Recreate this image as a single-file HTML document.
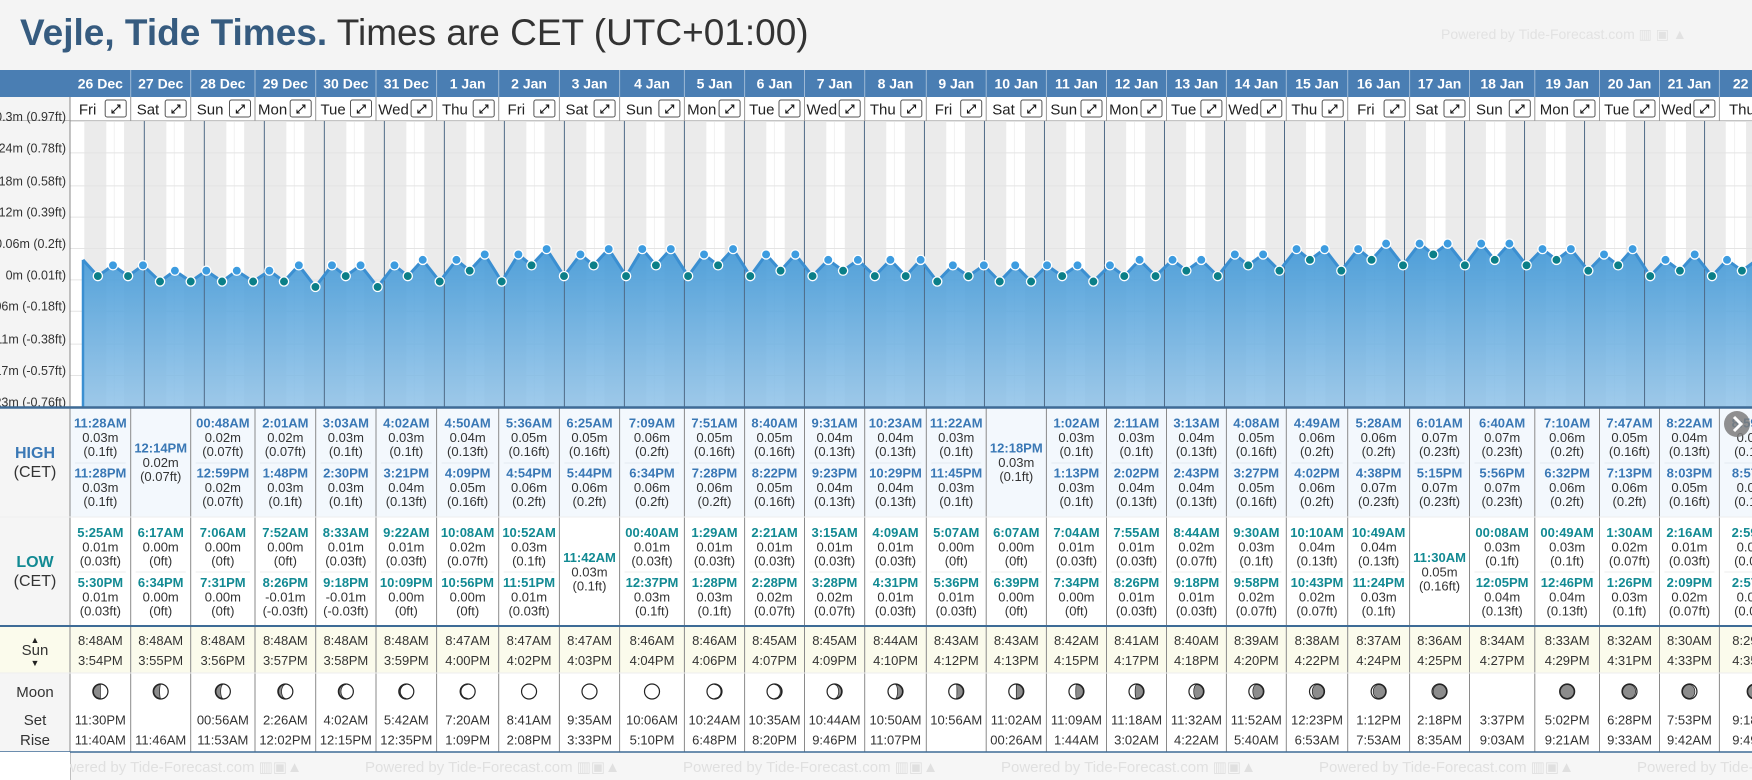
<!DOCTYPE html>
<html><head><meta charset="utf-8"><title>Vejle Tide Times</title>
<style>
html,body{margin:0;padding:0;background:#f4f4f4;width:1752px;height:780px;overflow:hidden;font-family:"Liberation Sans",sans-serif;}
#wrap{position:relative;width:1752px;height:780px;}
#title{position:absolute;left:20px;top:12px;font-size:37px;white-space:nowrap;color:#333;}
#title b{color:#365b7f;}
#wm{position:absolute;left:1441px;top:26px;font-size:14px;color:#e2e2e2;white-space:nowrap;}
svg{position:absolute;left:0;top:0;}
</style></head><body>
<div id="wrap">
<div id="title"><b>Vejle, Tide Times.</b> Times are CET (UTC+01:00)</div>
<div id="wm">Powered by Tide-Forecast.com ▥ ▣ ▲</div>
<svg id="svg" width="1752" height="780" viewBox="0 0 1752 780" xmlns="http://www.w3.org/2000/svg">
<defs>
<linearGradient id="fillg" x1="0" y1="0" x2="0" y2="1">
<stop offset="0" stop-color="#3f97d6" stop-opacity="0.92"/>
<stop offset="1" stop-color="#8fc2e8" stop-opacity="0.85"/>
</linearGradient>
<clipPath id="cclip"><rect x="70" y="121" width="1682" height="286"/></clipPath>
</defs>
</svg>
</div>
<script>
const days=['26 Dec','27 Dec','28 Dec','29 Dec','30 Dec','31 Dec','1 Jan','2 Jan','3 Jan','4 Jan','5 Jan','6 Jan','7 Jan','8 Jan','9 Jan','10 Jan','11 Jan','12 Jan','13 Jan','14 Jan','15 Jan','16 Jan','17 Jan','18 Jan','19 Jan','20 Jan','21 Jan','22 Jan'];
const weekdays=['Fri','Sat','Sun','Mon','Tue','Wed','Thu','Fri','Sat','Sun','Mon','Tue','Wed','Thu','Fri','Sat','Sun','Mon','Tue','Wed','Thu','Fri','Sat','Sun','Mon','Tue','Wed','Thu'];
const highT=[['11:28AM','11:28PM'],['12:14PM'],['00:48AM','12:59PM'],['2:01AM','1:48PM'],['3:03AM','2:30PM'],['4:02AM','3:21PM'],['4:50AM','4:09PM'],['5:36AM','4:54PM'],['6:25AM','5:44PM'],['7:09AM','6:34PM'],['7:51AM','7:28PM'],['8:40AM','8:22PM'],['9:31AM','9:23PM'],['10:23AM','10:29PM'],['11:22AM','11:45PM'],['12:18PM'],['1:02AM','1:13PM'],['2:11AM','2:02PM'],['3:13AM','2:43PM'],['4:08AM','3:27PM'],['4:49AM','4:02PM'],['5:28AM','4:38PM'],['6:01AM','5:15PM'],['6:40AM','5:56PM'],['7:10AM','6:32PM'],['7:47AM','7:13PM'],['8:22AM','8:03PM'],['8:59AM','8:57PM']];
const highM=[[.03,.03],[.02],[.02,.02],[.02,.03],[.03,.03],[.03,.04],[.04,.05],[.05,.06],[.05,.06],[.06,.06],[.05,.06],[.05,.05],[.04,.04],[.04,.04],[.03,.03],[.03],[.03,.03],[.03,.04],[.04,.04],[.05,.05],[.06,.06],[.06,.07],[.07,.07],[.07,.07],[.06,.06],[.05,.06],[.04,.05],[.04,.04]];
const lowT=[['5:25AM','5:30PM'],['6:17AM','6:34PM'],['7:06AM','7:31PM'],['7:52AM','8:26PM'],['8:33AM','9:18PM'],['9:22AM','10:09PM'],['10:08AM','10:56PM'],['10:52AM','11:51PM'],['11:42AM'],['00:40AM','12:37PM'],['1:29AM','1:28PM'],['2:21AM','2:28PM'],['3:15AM','3:28PM'],['4:09AM','4:31PM'],['5:07AM','5:36PM'],['6:07AM','6:39PM'],['7:04AM','7:34PM'],['7:55AM','8:26PM'],['8:44AM','9:18PM'],['9:30AM','9:58PM'],['10:10AM','10:43PM'],['10:49AM','11:24PM'],['11:30AM'],['00:08AM','12:05PM'],['00:49AM','12:46PM'],['1:30AM','1:26PM'],['2:16AM','2:09PM'],['2:59AM','2:57PM']];
const lowM=[[.01,.01],[0,0],[0,0],[0,-.01],[.01,-.01],[.01,0],[.02,0],[.03,.01],[.03],[.01,.03],[.01,.03],[.01,.02],[.01,.02],[.01,.01],[0,.01],[0,0],[.01,0],[.01,.01],[.02,.01],[.03,.02],[.04,.02],[.04,.03],[.05],[.03,.04],[.03,.04],[.02,.03],[.01,.02],[.01,.02]];
const sunrise=['8:48AM','8:48AM','8:48AM','8:48AM','8:48AM','8:48AM','8:47AM','8:47AM','8:47AM','8:46AM','8:46AM','8:45AM','8:45AM','8:44AM','8:43AM','8:43AM','8:42AM','8:41AM','8:40AM','8:39AM','8:38AM','8:37AM','8:36AM','8:34AM','8:33AM','8:32AM','8:30AM','8:29AM'];
const sunset=['3:54PM','3:55PM','3:56PM','3:57PM','3:58PM','3:59PM','4:00PM','4:02PM','4:03PM','4:04PM','4:06PM','4:07PM','4:09PM','4:10PM','4:12PM','4:13PM','4:15PM','4:17PM','4:18PM','4:20PM','4:22PM','4:24PM','4:25PM','4:27PM','4:29PM','4:31PM','4:33PM','4:35PM'];
const moonSet=['11:30PM','','00:56AM','2:26AM','4:02AM','5:42AM','7:20AM','8:41AM','9:35AM','10:06AM','10:24AM','10:35AM','10:44AM','10:50AM','10:56AM','11:02AM','11:09AM','11:18AM','11:32AM','11:52AM','12:23PM','1:12PM','2:18PM','3:37PM','5:02PM','6:28PM','7:53PM','9:18PM'];
const moonRise=['11:40AM','11:46AM','11:53AM','12:02PM','12:15PM','12:35PM','1:09PM','2:08PM','3:33PM','5:10PM','6:48PM','8:20PM','9:46PM','11:07PM','','00:26AM','1:44AM','3:02AM','4:22AM','5:40AM','6:53AM','7:53AM','8:35AM','9:03AM','9:21AM','9:33AM','9:42AM','9:49AM'];
const moonDark=[-0.5,-0.42,-0.34,-0.22,-0.14,-0.07,-0.02,0,0,0,0.03,0.08,0.2,0.35,0.45,0.5,0.55,0.6,0.7,0.76,0.85,0.9,0.97,null,1,-0.95,-0.9,-0.82];
const leadValue=0.04;
const yTicksM=[0.2957,0.2377,0.1768,0.1189,0.061,0.003,-0.0549,-0.1158,-0.1737,-0.2316];
const yTickLabels=['0.3m (0.97ft)','0.24m (0.78ft)','0.18m (0.58ft)','0.12m (0.39ft)','0.06m (0.2ft)','0m (0.01ft)','-0.06m (-0.18ft)','-0.11m (-0.38ft)','-0.17m (-0.57ft)','-0.23m (-0.76ft)'];

const NS='http://www.w3.org/2000/svg';
const svg=document.getElementById('svg');
const B=[70,130.7,190.7,255,315.7,376,436.6,498.7,559.4,619.6,684.4,744.6,804.5,864.7,926.3,986.2,1046.4,1106.5,1166.5,1226.4,1286.3,1347.7,1409.6,1469.5,1534.8,1599.5,1659.5,1719.4,1790];
const X0=84.3, DW=60.01, CT=121, CB=406.5;
function xAt(d,h){return X0+DW*(d+h/24);}
function yAt(v){return 281.5-541*v;}
function hrs(t){const m=t.match(/(\d+):(\d+)(AM|PM)/);let h=+m[1]%12;if(m[3]==='PM')h+=12;return h+(+m[2])/60;}
function ft(m){let f=Math.round(m*3.28084*100)/100;return '('+(f===0?0:f)+'ft)';}
function mk(tag,attrs,parent){const e=document.createElementNS(NS,tag);for(const k in attrs)e.setAttribute(k,attrs[k]);(parent||svg).appendChild(e);return e;}
function tx(x,y,s,size,color,weight,anchor){const e=mk('text',{x:x,y:y,'font-size':size,fill:color,'font-weight':weight||'normal','text-anchor':anchor||'middle','font-family':'Liberation Sans, sans-serif'});e.textContent=s;return e;}

let e;
e=mk('rect',{x:0,y:70,width:1752,height:27,fill:'#4a7eb3'});


e=mk('rect',{x:70,y:97,width:1682,height:24,fill:'#ffffff'});


e=mk('line',{x1:0,y1:121,x2:1752,y2:121,stroke:'#8a8a8a','stroke-width':1});


e=mk('rect',{x:70,y:121,width:1682,height:286,fill:'#ffffff'});



const chartG=mk('g',{'clip-path':'url(#cclip)'});


for(let d=0;d<days.length;d++){
  const sr=hrs(sunrise[d]), ss=hrs(sunset[d]);
  e=mk('rect',{x:xAt(d,0),y:CT,width:xAt(d,sr)-xAt(d,0),height:CB-CT,fill:'#ebebeb'},chartG);
  
  
  e=mk('rect',{x:xAt(d,ss),y:CT,width:xAt(d,24)-xAt(d,ss),height:CB-CT,fill:'#ebebeb'},chartG);
  
  
  e=mk('line',{x1:xAt(d,12),y1:CT,x2:xAt(d,12),y2:CB,stroke:'#f1f1f1','stroke-width':1},chartG);
  
  
}
yTicksM.forEach((v,i)=>{
  e=mk('line',{x1:70,y1:yAt(v),x2:1752,y2:yAt(v),stroke:'#e4e4e4','stroke-width':1},chartG);
  
  
});
const pts=[];
pts.push({x:xAt(0,0)-1.3,v:leadValue,type:'lead'});
for(let d=0;d<days.length;d++){
  highT[d].forEach((t,j)=>pts.push({x:xAt(d,hrs(t)),v:highM[d][j],type:'high'}));
  lowT[d].forEach((t,j)=>pts.push({x:xAt(d,hrs(t)),v:lowM[d][j],type:'low'}));
}
pts.sort((a,b)=>a.x-b.x);
let dpath='M'+pts[0].x+','+CB;
pts.forEach(p=>{dpath+=' L'+p.x.toFixed(1)+','+yAt(p.v).toFixed(1);});
dpath+=' L'+pts[pts.length-1].x+','+CB+' Z';
e=mk('path',{d:dpath,fill:'url(#fillg)',stroke:'none'},chartG);


for(let d=1;d<days.length;d++){
  e=mk('line',{x1:xAt(d,0),y1:CT,x2:xAt(d,0),y2:CB,stroke:'#4f6a86','stroke-width':1},chartG);
  
  
}
let lpath='';
pts.forEach((p,i)=>{lpath+=(i?' L':'M')+p.x.toFixed(1)+','+yAt(p.v).toFixed(1);});
e=mk('path',{d:lpath,fill:'none',stroke:'#3b8fd1','stroke-width':3,'stroke-linejoin':'round'},chartG);


e=mk('line',{x1:pts[0].x,y1:yAt(pts[0].v),x2:pts[0].x,y2:CB,stroke:'#3b8fd1','stroke-width':2.5},chartG);


pts.forEach(p=>{
  if(p.type==='lead')return;
  e=mk('circle',{cx:p.x,cy:yAt(p.v),r:4.6,fill:p.type==='high'?'#3d9ce0':'#0b7f88',stroke:'#ffffff','stroke-width':1.3},chartG);
  
  
});
e=mk('rect',{x:0,y:121,width:70,height:286,fill:'#f4f4f4'});


e=mk('line',{x1:70,y1:97,x2:70,y2:407,stroke:'#888','stroke-width':1});


yTicksM.forEach((v,i)=>{
  e=tx(66,yAt(v)-0.5,yTickLabels[i],12.5,'#333','normal','end');
  
  
});

for(let d=0;d<days.length;d++){
  const x1=B[d], x2=Math.min(B[d+1],1790), cx=(x1+x2)/2;
  e=tx(cx,88.5,days[d],14,'#ffffff','bold');
  
  
  e=mk('line',{x1:x2,y1:70,x2:x2,y2:97,stroke:'#9db9d6','stroke-width':1});
  
  
  e=mk('line',{x1:x2,y1:97,x2:x2,y2:121,stroke:'#999','stroke-width':1});
  
  
  const bx=x2-25.5;
  e=tx((x1+bx)/2,114.5,weekdays[d],15,'#222','normal');
  
  
  e=mk('rect',{x:bx,y:100,width:21,height:17,rx:2,fill:'#fff',stroke:'#555','stroke-width':1});
  
  
  e=tx(bx+10.5,113,'⤢',12,'#111','bold');
  
  
}

e=mk('rect',{x:0,y:407,width:1752,height:110,fill:'#f3f8fd'});


e=mk('rect',{x:0,y:517,width:1752,height:109,fill:'#ffffff'});


e=mk('rect',{x:0,y:626,width:1752,height:47,fill:'#fbfbec'});


e=mk('rect',{x:0,y:673,width:1752,height:79,fill:'#ffffff'});


e=mk('rect',{x:0,y:407,width:70,height:219,fill:'#f5f5f5'});


e=mk('rect',{x:0,y:673,width:70,height:79,fill:'#f5f5f5'});


e=mk('rect',{x:70,y:752,width:1682,height:28,fill:'#f6f6f6'});



[[ 'HIGH',458,'#3a78b5','bold',16],['(CET)',477,'#333','normal',16],['LOW',567,'#128a93','bold',16],['(CET)',586,'#333','normal',16],['▲',643,'#222','normal',9],['Sun',655,'#333','normal',15],['▼',666,'#222','normal',9],['Moon',697,'#333','normal',15],['Set',725,'#333','normal',15],['Rise',745,'#333','normal',15]].forEach(r=>{
  e=tx(35,r[1],r[0],r[4],r[2],r[3]);
  
  
});

function moonPath(cx,cy,r,f){
  const a=Math.abs(f), left=f<0;
  if(a<=0.001)return '';
  if(a>=0.999)return 'M'+(cx-r)+','+cy+' a'+r+','+r+' 0 1,0 '+(2*r)+',0 a'+r+','+r+' 0 1,0 '+(-2*r)+',0Z';
  const rx=Math.abs(1-2*a)*r;
  const s1=left?0:1;
  const s2=a<0.5?(left?1:0):(left?0:1);
  return 'M'+cx+','+(cy-r)+' A'+r+','+r+' 0 0,'+s1+' '+cx+','+(cy+r)+' A'+rx+','+r+' 0 0,'+s2+' '+cx+','+(cy-r)+'Z';
}

for(let d=0;d<days.length;d++){
  const x1=B[d], x2=B[d+1], cx=(x1+x2)/2;
  const hs=highT[d];
  const hy=hs.length===2?[423,473]:[448];
  hs.forEach((t,j)=>{
    e=tx(cx,hy[j]+4.5,t,13,'#3a78b5','bold');
    
    
    e=tx(cx,hy[j]+19,highM[d][j].toFixed(2)+'m',13,'#333');
    
    
    e=tx(cx,hy[j]+33,ft(highM[d][j]),13,'#333');
    
    
  });
  if(hs.length===2){
    e=mk('line',{x1:x1+5,y1:463,x2:x2-5,y2:463,stroke:'#e3eaf1','stroke-width':1});
    
    
  }
  const ls=lowT[d];
  const ly=ls.length===2?[532.5,582.5]:[557.5];
  ls.forEach((t,j)=>{
    e=tx(cx,ly[j]+4.5,t,13,'#128a93','bold');
    
    
    e=tx(cx,ly[j]+19,lowM[d][j].toFixed(2)+'m',13,'#333');
    
    
    e=tx(cx,ly[j]+33,ft(lowM[d][j]),13,'#333');
    
    
  });
  if(ls.length===2){
    e=mk('line',{x1:x1+5,y1:572,x2:x2-5,y2:572,stroke:'#ececec','stroke-width':1});
    
    
  }
  e=tx(cx,645,sunrise[d],13,'#333');
  
  
  e=tx(cx,665,sunset[d],13,'#333');
  
  
  if(moonDark[d]!==null){
    e=mk('circle',{cx:cx,cy:691.5,r:7.5,fill:'#fff',stroke:'#222','stroke-width':1.2});
    
    
    const p=moonPath(cx,691.5,6.8,moonDark[d]);
    if(p){
      e=mk('path',{d:p,fill:'#8c8c8c',stroke:'#222','stroke-width':0.7});
      
      
    }
  }
  e=tx(cx,724.5,moonSet[d],13,'#333');
  
  
  e=tx(cx,744.5,moonRise[d],13,'#333');
  
  
  e=mk('line',{x1:x2,y1:408,x2:x2,y2:752,stroke:'#8a8a8a','stroke-width':1});
  
  
}
e=mk('line',{x1:70,y1:408,x2:70,y2:780,stroke:'#8a8a8a','stroke-width':1});


[[407.5,2.5],[626,2],[752,1.5]].forEach(l=>{
  e=mk('line',{x1:0,y1:l[0],x2:1752,y2:l[0],stroke:'#3e6b96','stroke-width':l[1]});
  
  
});
e=mk('line',{x1:0,y1:517,x2:1752,y2:517,stroke:'#eeeeee','stroke-width':1});


e=mk('line',{x1:0,y1:673,x2:1752,y2:673,stroke:'#eeeeee','stroke-width':1});


for(let i=0;i<6;i++){
  e=tx(47+318*i,772,'Powered by Tide-Forecast.com ▥▣▲',15,'#e0e0e0','normal','start');
  
  
}
e=mk('rect',{x:0,y:752,width:70,height:28,fill:'#ffffff'});


e=mk('circle',{cx:1737,cy:424,r:13,fill:'#7d7d7d','fill-opacity':0.85});


e=mk('path',{d:'M1734,417 L1741,424 L1734,431',fill:'none',stroke:'#fff','stroke-width':3});


</script>
</body></html>
